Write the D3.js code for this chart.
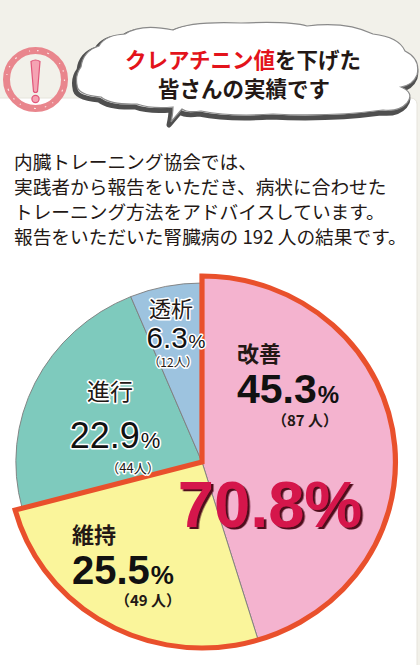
<!DOCTYPE html>
<html lang="ja">
<head>
  <meta charset="UTF-8">
  <title>クレアチニン値を下げた皆さんの実績です</title>
  <style>
    html, body { margin: 0; padding: 0; background: #f2f1ea; }
    svg { display: block; }
  </style>
</head>
<body>
  <script src="https://cdn.jsdelivr.net/npm/d3@7/dist/d3.min.js"></script>
  <script>
    // データ
    var categories = ["改善", "維持", "進行", "透析"];
    var counts = [87, 49, 44, 12];
    var percents = ["45.3", "25.5", "22.9", "6.3"];
    var totalPeople = 192;
    var improvedShare = "70.8%";   // 改善 + 維持
    var highlighted = ["改善", "維持"];

    var colors = { "改善": "#f4b3cf", "維持": "#faf59b", "進行": "#7ecabd", "透析": "#9dc3df" };

    var width = 420, height = 665;
    var jp = "'Noto Sans CJK JP', 'Noto Sans', sans-serif";
    var num = "'Liberation Sans', Arial, sans-serif";

    var svg = d3.select("body").append("svg")
      .attr("width", width)
      .attr("height", height);

    var defs = svg.append("defs");
    defs.append("filter").attr("id", "shadow")
      .attr("x", "-10%").attr("y", "-10%").attr("width", "120%").attr("height", "130%")
      .append("feDropShadow")
      .attr("dx", 2.5).attr("dy", 2)
      .attr("stdDeviation", 0.4)
      .attr("flood-color", "#4f0a1e")
      .attr("flood-opacity", 1);

    // 背景のカード
    svg.append("rect")
      .attr("x", -10).attr("y", 98)
      .attr("width", 427).attr("height", 600)
      .attr("rx", 6)
      .attr("fill", "#fff")
      .attr("stroke", "#e6e4dc")
      .attr("stroke-width", 1);

    // ！マーク
    var warn = svg.append("g").attr("transform", "translate(35.5,79.5)");
    warn.append("circle").attr("r", 29)
      .attr("fill", "none").attr("stroke", "#e9868d").attr("stroke-width", 7);
    warn.append("circle").attr("r", 29)
      .attr("fill", "none").attr("stroke", "#fbe3e3").attr("stroke-width", 1.2)
      .attr("stroke-dasharray", "1.5 9 2 14 1 7");
    warn.append("path")
      .attr("d", "M-4.5,-18 Q0,-21 4.5,-18 L2,12 Q0,14 -2,12 Z")
      .attr("fill", "#f5a3b3").attr("stroke", "#e0577a").attr("stroke-width", 1.2);
    warn.append("circle").attr("cy", 19.5).attr("r", 3.6)
      .attr("fill", "#f5a3b3").attr("stroke", "#e0577a").attr("stroke-width", 1.2);

    // 吹き出し
    var cloud = "M80,68 Q82,52 98,47 Q104,36 124,35 Q140,24 172,31 Q190,22 240,24 Q290,22 306,27 " +
      "Q345,22 372,35 Q398,38 404,52 Q420,60 416,76 Q412,86 400,88 Q414,94 406,104 Q398,113 382,111 " +
      "Q330,118 272,115 Q230,118 200,112 Q186,114 181,110 Q174,118 170,123 Q172,114 172,108 " +
      "Q150,110 136,105 Q110,106 100,98 Q76,96 76,86 Q74,76 80,68 Z";
    svg.append("path").attr("d", cloud)
      .attr("transform", "translate(-1,2)")
      .attr("fill", "#fff").attr("stroke", "#4f4f4f").attr("stroke-width", 5)
      .attr("stroke-linejoin", "round");
    svg.append("path").attr("d", cloud)
      .attr("transform", "translate(1,-1)")
      .attr("fill", "#fff").attr("stroke", "#8a8a8a").attr("stroke-width", 1.2);

    var title = svg.append("text")
      .attr("x", 243).attr("y", 68)
      .attr("text-anchor", "middle")
      .attr("font-family", jp).attr("font-weight", "bold").attr("font-size", 21.5)
      .attr("fill", "#231815");
    title.append("tspan").attr("fill", "#e3131b").text("クレアチニン値");
    title.append("tspan").text("を下げた");
    svg.append("text")
      .attr("x", 244).attr("y", 97)
      .attr("text-anchor", "middle")
      .attr("font-family", jp).attr("font-weight", "bold").attr("font-size", 21.5)
      .attr("fill", "#231815")
      .text("皆さんの実績です");

    // 説明文
    var lines = [
      "内臓トレーニング協会では、",
      "実践者から報告をいただき、病状に合わせた",
      "トレーニング方法をアドバイスしています。",
      "報告をいただいた腎臓病の " + totalPeople + " 人の結果です。"
    ];
    svg.append("g").selectAll("text")
      .data(lines)
      .enter()
      .append("text")
      .attr("x", 14)
      .attr("y", function(d, i){ return 169 + i * 25; })
      .attr("font-family", jp).attr("font-size", 18.7)
      .attr("fill", "#231815")
      .text(function(d){ return d; });

    // 円グラフ
    var cx = 202, cy = 462;
    var rBase = 179, rHigh = 186;
    var data = categories.map(function(c, i){
      return { name: c, count: counts[i], pct: percents[i] };
    });
    var pie = d3.pie().sort(null).value(function(d){ return d.count; });
    var slices = pie(data);
    var isHigh = function(d){ return highlighted.indexOf(d.data.name) >= 0; };

    var arc = d3.arc().innerRadius(0)
      .outerRadius(function(d){ return isHigh(d) ? rHigh : rBase; });

    var g = svg.append("g")
      .attr("transform", "translate(" + cx + "," + cy + ") scale(1.04,1)");

    g.selectAll("path.slice")
      .data(slices)
      .enter()
      .append("path")
      .attr("class", "slice")
      .attr("d", arc)
      .attr("fill", function(d){ return colors[d.data.name]; })
      .attr("stroke", "#7d7d7d")
      .attr("stroke-width", 0.9);

    // 改善＋維持 の外枠
    var hi = slices.filter(isHigh);
    g.append("path")
      .attr("d", d3.arc()({
        innerRadius: 0, outerRadius: rHigh,
        startAngle: d3.min(hi, function(d){ return d.startAngle; }),
        endAngle: d3.max(hi, function(d){ return d.endAngle; })
      }))
      .attr("fill", "none")
      .attr("stroke", "#e9502c")
      .attr("stroke-width", 5)
      .attr("stroke-linejoin", "miter");

    // ラベル
    var labelStyle = {
      "改善": { x: 237, y: 362, anchor: "start", bold: true, nameSize: 22, numSize: 41, pctSize: 24, numY: 403, cntX: 305, cntY: 426, cntSize: 15, halo: false },
      "維持": { x: 72, y: 543, anchor: "start", bold: true, nameSize: 22, numSize: 40, pctSize: 26, numY: 584, cntX: 148, cntY: 606, cntSize: 15, halo: false },
      "進行": { x: 110, y: 400, anchor: "middle", bold: false, nameSize: 23, numSize: 36, pctSize: 22, numY: 448, cntX: 133, cntY: 473, cntSize: 13, halo: true },
      "透析": { x: 171, y: 317, anchor: "middle", bold: false, nameSize: 22, numSize: 29.5, pctSize: 19, numY: 348, cntX: 173, cntY: 367, cntSize: 12, halo: true }
    };

    var labels = svg.append("g").selectAll("g")
      .data(slices)
      .enter()
      .append("g");

    labels.each(function(d){
      var s = labelStyle[d.data.name];
      var el = d3.select(this);
      var fw = s.bold ? "bold" : "normal";
      var halo = function(t){
        if (s.halo) t.attr("stroke", "#fff").attr("stroke-width", 3).attr("paint-order", "stroke")
                     .attr("stroke-linejoin", "round");
        return t;
      };
      halo(el.append("text")
        .attr("x", s.x).attr("y", s.y)
        .attr("text-anchor", s.anchor)
        .attr("font-family", jp).attr("font-weight", fw).attr("font-size", s.nameSize)
        .attr("fill", "#231815")
        .text(d.data.name));
      var t = halo(el.append("text")
        .attr("x", s.anchor === "middle" ? s.x + 5 : s.x).attr("y", s.numY)
        .attr("text-anchor", s.anchor)
        .attr("font-family", num).attr("font-weight", fw)
        .attr("fill", "#111"));
      t.append("tspan").attr("font-size", s.numSize).text(d.data.pct);
      t.append("tspan").attr("font-size", s.pctSize).attr("dx", 1).text("%");
      halo(el.append("text")
        .attr("x", s.cntX).attr("y", s.cntY)
        .attr("text-anchor", "middle")
        .attr("font-family", jp).attr("font-weight", fw).attr("font-size", s.cntSize)
        .attr("fill", "#231815")
        .text("（" + d.data.count + (s.bold ? " " : "") + "人）"));
    });

    // 改善＋維持 合計
    svg.append("text")
      .attr("x", 270).attr("y", 527)
      .attr("text-anchor", "middle")
      .attr("font-family", num).attr("font-weight", "bold").attr("font-size", 65)
      .attr("fill", "#d5174b")
      .attr("filter", "url(#shadow)")
      .text(improvedShare);
  </script>
</body>
</html>
